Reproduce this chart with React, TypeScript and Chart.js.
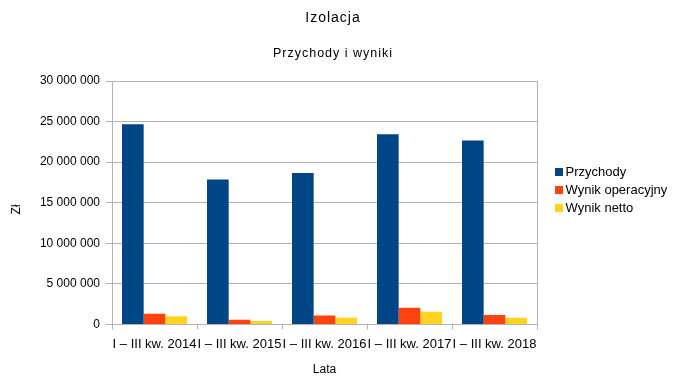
import React, { useEffect, useRef } from "react";
import { Chart, registerables } from "chart.js";

Chart.register(...registerables);

const chartTitle = "Izolacja";
const chartSubtitle = "Przychody i wyniki";
const xAxisTitle = "Lata";
const yAxisTitle = "Zł";
const categories = [
  "I – III kw. 2014",
  "I – III kw. 2015",
  "I – III kw. 2016",
  "I – III kw. 2017",
  "I – III kw. 2018",
];
const przychody = [24680000, 17860000, 18680000, 23450000, 22660000];
const wynikOperacyjny = [1320000, 580000, 1110000, 2060000, 1160000];
const wynikNetto = [1030000, 420000, 830000, 1560000, 830000];
const seriesNames = ["Przychody", "Wynik operacyjny", "Wynik netto"];
const seriesColors = ["#004586", "#ff420e", "#ffd320"];

const FONT = "'Liberation Sans', Arial, sans-serif";
const GRID = "#b3b3b3";
const LEGEND_W = 121.5;

function fmt(v: number): string {
  return String(Math.round(v)).replace(/\B(?=(\d{3})+(?!\d))/g, " ");
}

const tweaks = {
  id: "tweaks",
  beforeLayout(chart: any) {
    const lg = chart.legend;
    if (lg && !lg.__fixed) {
      const f = lg.fit.bind(lg);
      lg.fit = () => {
        f();
        lg.width = LEGEND_W;
      };
      lg.__fixed = true;
    }
  },
  beforeDraw(chart: any) {
    chart.boxes.forEach((box: any) => {
      if (
        box.options &&
        (box.options.text === chartTitle || box.options.text === chartSubtitle) &&
        !box.__spaced
      ) {
        const orig = box.draw.bind(box);
        box.draw = (...args: any[]) => {
          const ctx = chart.ctx;
          ctx.letterSpacing = "1px";
          orig(...args);
          ctx.letterSpacing = "0px";
        };
        box.__spaced = true;
      }
    });
  },
};

export default function App() {
  const ref = useRef<HTMLCanvasElement | null>(null);
  useEffect(() => {
    if (!ref.current) return;
    Chart.defaults.font.family = FONT;
    Chart.defaults.color = "#000000";
    const values = [przychody, wynikOperacyjny, wynikNetto];
    const chart = new Chart(ref.current, {
      type: "bar",
      data: {
        labels: categories,
        datasets: seriesNames.map((name, i) => ({
          label: name,
          data: values[i],
          backgroundColor: seriesColors[i],
          borderWidth: 0,
          categoryPercentage: 0.765,
          barPercentage: 1,
        })),
      },
      plugins: [tweaks],
      options: {
        responsive: false,
        animation: false,
        devicePixelRatio: 1,
        layout: { padding: { left: -9.5, right: -1.5, top: 0, bottom: 3 } },
        plugins: {
          title: {
            display: true,
            text: chartTitle,
            font: { size: 14, weight: "normal", family: FONT },
            color: "#000",
            padding: { top: 9.6, bottom: 10 },
          },
          subtitle: {
            display: true,
            text: chartSubtitle,
            font: { size: 12.5, weight: "normal", family: FONT },
            color: "#000",
            padding: { top: 9.3, bottom: 20.3 },
          },
          legend: {
            position: "right",
            align: "center",
            labels: {
              usePointStyle: true,
              pointStyle: "rect",
              boxWidth: 0.01,
              boxHeight: 8,
              padding: 5,
              font: { size: 13, family: FONT },
              color: "#000",
            },
          },
          tooltip: { enabled: false },
        },
        scales: {
          x: {
            grid: {
              offset: true,
              drawOnChartArea: false,
              tickLength: 5,
              color: GRID,
              tickColor: GRID,
            },
            border: { color: GRID },
            ticks: {
              maxRotation: 0,
              minRotation: 0,
              autoSkip: false,
              padding: 7.5,
              font: { size: 13, family: FONT },
              color: "#000",
            },
            title: {
              display: true,
              text: xAxisTitle,
              font: { size: 12, family: FONT },
              color: "#000",
              padding: { top: 0, bottom: 3.3 },
            },
            afterFit: (scale: any) => {
              scale.height = 55.5;
            },
          },
          y: {
            min: 0,
            max: 30000000,
            grid: { color: GRID, tickLength: 6, tickColor: GRID },
            border: { color: GRID },
            ticks: {
              stepSize: 5000000,
              padding: 6,
              font: { size: 12, family: FONT },
              color: "#000",
              callback: (v: any) => fmt(Number(v)),
            },
            title: {
              display: true,
              text: yAxisTitle + "    ",
              font: { size: 12, family: FONT },
              color: "#000",
              padding: { top: 19, bottom: 0 },
            },
            afterFit: (scale: any) => {
              scale.width = 121.5;
            },
          },
          yR: {
            position: "right",
            display: true,
            grid: { display: false, drawTicks: false },
            border: { display: true, color: GRID },
            ticks: { display: false },
            afterFit: (scale: any) => {
              scale.width = 17;
            },
          },
        },
      },
    } as any);
    return () => chart.destroy();
  }, []);
  return (
    <div style={{ position: "fixed", left: 0, top: 0, width: 674, height: 383, background: "#fff" }}>
      <canvas ref={ref} width={674} height={383} style={{ display: "block" }} />
    </div>
  );
}
